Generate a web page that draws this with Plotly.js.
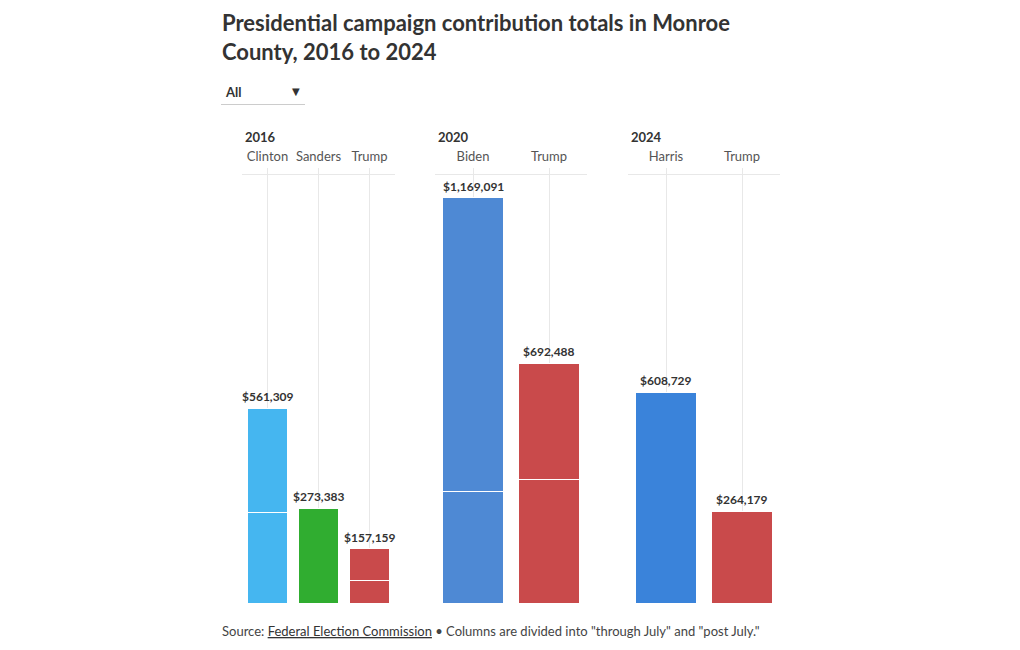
<!DOCTYPE html>
<html>
<head>
<meta charset="utf-8">
<script src="https://cdn.plot.ly/plotly-3.0.1.min.js"></script>
<style>
  html, body { margin: 0; padding: 0; background: #fff; }
  #chart { width: 1020px; height: 650px; }
</style>
</head>
<body>
<div id="chart"></div>
<script>
// ---- Data ----
const years = ['2016', '2020', '2024'];

const candidates2016 = ['Clinton', 'Sanders', 'Trump'];
const totals2016 = [561309, 273383, 157159];
const throughJuly2016 = [262000, 273383, 65000];

const candidates2020 = ['Biden', 'Trump'];
const totals2020 = [1169091, 692488];
const throughJuly2020 = [323000, 355000];

const candidates2024 = ['Harris', 'Trump'];
const totals2024 = [608729, 264179];
const throughJuly2024 = [608729, 264179];

const colors2016 = ['#45b6f0', '#30ad30', '#c94a4b'];
const colors2020 = ['#4e89d4', '#c94a4b'];
const colors2024 = ['#3a83da', '#c94a4b'];

// ---- Build ----
const FONT = 'Lato, "Source Sans Pro", "Noto Sans", sans-serif';
const panels = [
  {year: years[0], cats: candidates2016, totals: totals2016, through: throughJuly2016, colors: colors2016},
  {year: years[1], cats: candidates2020, totals: totals2020, through: throughJuly2020, colors: colors2020},
  {year: years[2], cats: candidates2024, totals: totals2024, through: throughJuly2024, colors: colors2024}
];
const fmt = v => '$' + v.toLocaleString('en-US');

const W = 1020, H = 650;
const xDomains = [[242, 395], [435, 587], [628, 780]];
const yDomain = [1 - 603 / H, 1 - 175 / H];
const yMax = 1235000;

const layout = {
  width: W, height: H,
  margin: {l: 0, r: 0, t: 0, b: 0},
  paper_bgcolor: '#ffffff', plot_bgcolor: '#ffffff',
  barmode: 'stack', bargap: 0.2,
  font: {family: FONT, color: '#333333'},
  hovermode: 'closest',
  annotations: [],
  shapes: [
    {type: 'line', xref: 'paper', yref: 'paper',
     x0: 221 / W, x1: 305 / W, y0: 1 - 104.5 / H, y1: 1 - 104.5 / H,
     line: {color: '#cccccc', width: 1}}
  ]
};

const traces = [];
panels.forEach((p, i) => {
  const xa = i === 0 ? 'x' : 'x' + (i + 1);
  const ya = i === 0 ? 'y' : 'y' + (i + 1);
  const post = p.totals.map((t, k) => t - p.through[k]);
  traces.push({
    type: 'bar', x: p.cats, y: p.through, xaxis: xa, yaxis: ya,
    name: 'Through July',
    marker: {color: p.colors, line: {color: '#ffffff', width: 1}},
    hovertemplate: p.year + ' %{x}<br>Through July: $%{y:,.0f}<extra></extra>',
    showlegend: false
  });
  traces.push({
    type: 'bar', x: p.cats, y: post, xaxis: xa, yaxis: ya,
    name: 'Post July',
    marker: {color: p.colors, line: {color: '#ffffff', width: 1}},
    hovertemplate: p.year + ' %{x}<br>Post July: $%{y:,.0f}<extra></extra>',
    showlegend: false
  });
  // value labels above each column, positioned through the axes
  p.cats.forEach((c, k) => {
    layout.annotations.push({
      xref: xa, yref: ya, x: c, y: p.totals[k],
      xanchor: 'center', yanchor: 'bottom', yshift: 2, showarrow: false,
      text: '<b>' + fmt(p.totals[k]) + '</b>',
      font: {family: FONT, size: 12, color: '#333333'}
    });
  });
});

xDomains.forEach((d, i) => {
  const key = i === 0 ? 'xaxis' : 'xaxis' + (i + 1);
  const ykey = i === 0 ? 'yaxis' : 'yaxis' + (i + 1);
  const yref = i === 0 ? 'y' : 'y' + (i + 1);
  const n = panels[i].cats.length;
  layout[key] = {
    domain: [d[0] / W, d[1] / W], anchor: yref, type: 'category', side: 'top',
    range: [-0.5, n - 0.5], autorange: false,
    showgrid: true, gridcolor: '#e8e8e8', gridwidth: 1,
    showline: true, linecolor: '#e8e8e8', linewidth: 1,
    ticks: 'outside', ticklen: 6, tickcolor: '#e8e8e8',
    ticklabelstandoff: 2,
    tickfont: {family: FONT, size: 13, color: '#555555'},
    fixedrange: true
  };
  layout[ykey] = {
    domain: yDomain, range: [0, yMax], autorange: false, anchor: i === 0 ? 'x' : 'x' + (i + 1),
    showgrid: false, zeroline: false, showticklabels: false, showline: false,
    fixedrange: true
  };
  layout.annotations.push({
    xref: 'paper', yref: 'paper', x: (d[0] + 1) / W, y: 1 - 137 / H,
    xanchor: 'left', yanchor: 'middle', showarrow: false,
    text: '<b>' + panels[i].year + '</b>',
    font: {family: FONT, size: 13, color: '#333333'}
  });
});

// Title
layout.annotations.push({
  xref: 'paper', yref: 'paper', x: 220 / W, y: 1 - 37 / H,
  xanchor: 'left', yanchor: 'middle', align: 'left', showarrow: false,
  text: '<b>Presidential campaign contribution totals in Monroe<br>County, 2016 to 2024</b>',
  font: {family: FONT, size: 22, color: '#333333'}
});
// Dropdown look-alike
layout.annotations.push({
  xref: 'paper', yref: 'paper', x: 223 / W, y: 1 - 92 / H,
  xanchor: 'left', yanchor: 'middle', showarrow: false,
  text: '<b>All</b>', font: {family: FONT, size: 13, color: '#333333'}
});
layout.annotations.push({
  xref: 'paper', yref: 'paper', x: 296 / W, y: 1 - 92 / H,
  xanchor: 'center', yanchor: 'middle', showarrow: false,
  text: '▼', font: {family: 'DejaVu Sans', size: 10, color: '#333333'}
});
// Footer
layout.annotations.push({
  xref: 'paper', yref: 'paper', x: 220 / W, y: 1 - 631 / H,
  xanchor: 'left', yanchor: 'middle', showarrow: false,
  text: 'Source: <a href="https://www.fec.gov/" style="color:#333333;text-decoration:underline">Federal Election Commission</a> • Columns are divided into "through July" and "post July."',
  font: {family: FONT, size: 13, color: '#444444'}
});

Plotly.newPlot('chart', traces, layout, {displayModeBar: false, responsive: false});
</script>
</body>
</html>
